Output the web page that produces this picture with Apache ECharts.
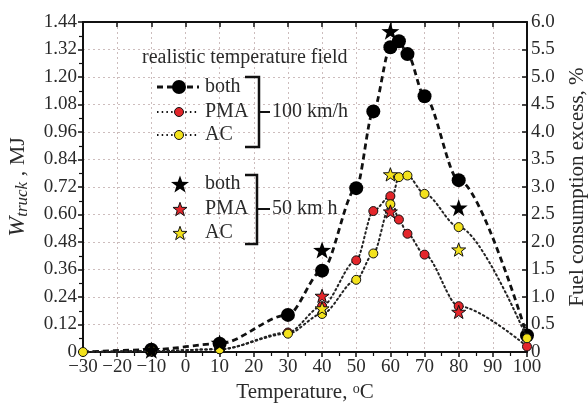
<!DOCTYPE html>
<html>
<head>
<meta charset="utf-8">
<script src="https://cdn.jsdelivr.net/npm/echarts@6/dist/echarts.min.js"></script>
<style>
  html, body { margin: 0; padding: 0; background: #fff; }
  #chart { width: 588px; height: 405px; }
</style>
</head>
<body>
<div id="chart"></div>
<script>
// Temperatures (°C) sampled for the 100 km/h runs
const temps100 = [-30, -10, 10, 30, 40, 50, 55, 60, 62.5, 65, 70, 80, 100];
// W_truck (MJ), 100 km/h, realistic temperature field
const both100 = [0, 0.01, 0.036, 0.162, 0.355, 0.715, 1.05, 1.33, 1.356, 1.30, 1.116, 0.75, 0.072];
const pma100  = [0, 0.004, 0.012, 0.085, 0.2, 0.40, 0.615, 0.68, 0.578, 0.516, 0.425, 0.2, 0.024];
const ac100   = [0, 0.004, 0.012, 0.08, 0.166, 0.315, 0.43, 0.645, 0.763, 0.77, 0.69, 0.545, 0.06];

// 50 km/h runs
const tempsBoth50 = [-10, 10, 40, 60, 80];
const both50      = [0.008, 0.04, 0.445, 1.40, 0.63];
const temps50     = [40, 60, 80];
const pma50       = [0.245, 0.613, 0.175];
const ac50        = [0.19, 0.775, 0.447];

// Axis ticks
const xTicks = { min: -30, max: 100, step: 10 };
const yLeft  = { min: 0, max: 1.44, step: 0.12 };
const yRight = { min: 0, max: 6, step: 0.5 };

const SERIF = '"Liberation Serif", "DejaVu Serif", serif';
const STAR = 'path://M0,-10 L2.35,-3.24 L9.51,-3.09 L3.8,1.24 L5.88,8.09 L0,4 L-5.88,8.09 L-3.8,1.24 L-9.51,-3.09 L-2.35,-3.24 Z';
const STAR_PTS = [[0,-10],[2.35,-3.24],[9.51,-3.09],[3.8,1.24],[5.88,8.09],[0,4],[-5.88,8.09],[-3.8,1.24],[-9.51,-3.09],[-2.35,-3.24]];
const RED = '#e3262b';
const YELLOW = '#f3e21c';
const INK = '#2a2a2a';

function pairs(xs, ys, skipFirst) {
  return xs.map((x, i) => {
    if (skipFirst && i === 0) return { value: [x, ys[i]], symbol: 'none' };
    return [x, ys[i]];
  });
}

const chart = echarts.init(document.getElementById('chart'), null, { renderer: 'canvas' });

const gridLine = { show: true, lineStyle: { color: '#cdbdbd', width: 1, type: [2, 3] } };
const axisLineStyle = { show: true, onZero: false, lineStyle: { color: '#111', width: 2 } };
const tickLabel = { fontFamily: SERIF, fontSize: 19, color: INK };

const dotted = { color: '#222', width: 2, type: [1.5, 3.2], cap: 'round' };

chart.setOption({
  animation: false,
  backgroundColor: '#fff',
  grid: { left: 83, right: 61, top: 22, bottom: 53, containLabel: false, outerBoundsMode: 'none' },
  xAxis: [{
    type: 'value', position: 'bottom',
    min: xTicks.min, max: xTicks.max, interval: xTicks.step,
    axisLine: axisLineStyle,
    axisTick: { show: true, inside: false, length: 5, lineStyle: { color: '#111', width: 1.5 } },
    minorTick: { show: true, splitNumber: 2, length: 4, lineStyle: { color: '#111', width: 1.2 } },
    splitLine: gridLine,
    axisLabel: Object.assign({ margin: 6, formatter: v => v < 0 ? '\u2212' + Math.abs(v) : String(v) }, tickLabel),
    name: '{a|Temperature, }{p|o}{a|C}',
    nameLocation: 'middle', nameGap: 24,
    nameTextStyle: {
      rich: {
        a: { fontFamily: SERIF, fontSize: 21, color: INK, lineHeight: 22 },
        p: { fontFamily: SERIF, fontSize: 14, color: INK, verticalAlign: 'top', lineHeight: 14 }
      }
    }
  }, {
    type: 'value', position: 'top',
    min: xTicks.min, max: xTicks.max, interval: xTicks.step,
    axisLine: axisLineStyle,
    axisTick: { show: true, inside: true, length: 5, lineStyle: { color: '#111', width: 1.5 } },
    axisLabel: { show: false },
    splitLine: { show: false }
  }],
  yAxis: [{
    type: 'value', position: 'left',
    min: yLeft.min, max: yLeft.max, interval: yLeft.step,
    axisLine: axisLineStyle,
    axisTick: { show: true, inside: false, length: 5, lineStyle: { color: '#111', width: 1.5 } },
    minorTick: { show: true, splitNumber: 2, length: 4, lineStyle: { color: '#111', width: 1.2 } },
    splitLine: gridLine,
    axisLabel: Object.assign({ margin: 6, formatter: v => v === 0 ? '0' : v.toFixed(2) }, tickLabel),
    name: '{w|W}{s|truck}{n| , MJ}',
    nameLocation: 'middle', nameGap: 52, nameRotate: 90,
    nameTextStyle: {
      rich: {
        w: { fontFamily: SERIF, fontStyle: 'italic', fontSize: 24, color: INK, lineHeight: 26 },
        s: { fontFamily: SERIF, fontStyle: 'italic', fontSize: 17, color: INK, verticalAlign: 'bottom', lineHeight: 15 },
        n: { fontFamily: SERIF, fontSize: 22, color: INK, lineHeight: 26 }
      }
    }
  }, {
    type: 'value', position: 'right',
    min: yRight.min, max: yRight.max, interval: yRight.step,
    axisLine: axisLineStyle,
    axisTick: { show: true, inside: true, length: 5, lineStyle: { color: '#111', width: 1.5 } },
    splitLine: { show: false },
    axisLabel: Object.assign({ margin: 4, formatter: v => v === 0 ? '0' : v.toFixed(1) }, tickLabel),
    name: 'Fuel consumption excess, %',
    nameLocation: 'middle', nameGap: 40, nameRotate: 90,
    nameTextStyle: { fontFamily: SERIF, fontSize: 21, color: INK }
  }],
  series: [
    {
      name: 'both 100', type: 'line', xAxisIndex: 0, yAxisIndex: 0,
      data: pairs(temps100, both100, true),
      smooth: 0.3, smoothMonotone: 'x',
      symbol: 'circle', symbolSize: 14,
      itemStyle: { color: '#000', opacity: 1 },
      lineStyle: { color: '#111', width: 2.8, type: [6, 4] },
      z: 3
    },
    {
      name: 'PMA 100', type: 'line', xAxisIndex: 0, yAxisIndex: 0,
      data: pairs(temps100, pma100, true),
      smooth: 0.3, smoothMonotone: 'x',
      symbol: 'circle', symbolSize: 9,
      itemStyle: { color: RED, borderColor: '#111', borderWidth: 1, opacity: 1 },
      lineStyle: dotted,
      z: 4
    },
    {
      name: 'AC 100', type: 'line', xAxisIndex: 0, yAxisIndex: 0,
      data: pairs(temps100, ac100, false),
      smooth: 0.3, smoothMonotone: 'x',
      symbol: 'circle', symbolSize: 9,
      itemStyle: { color: YELLOW, borderColor: '#111', borderWidth: 1, opacity: 1 },
      lineStyle: dotted,
      z: 4
    },
    {
      name: 'both 50', type: 'scatter', xAxisIndex: 0, yAxisIndex: 0,
      data: pairs(tempsBoth50, both50, false),
      symbol: STAR, symbolKeepAspect: true, symbolSize: 18,
      itemStyle: { color: '#000', opacity: 1 },
      z: 5
    },
    {
      name: 'PMA 50', type: 'scatter', xAxisIndex: 0, yAxisIndex: 0,
      data: pairs(temps50, pma50, false),
      symbol: STAR, symbolKeepAspect: true, symbolSize: 14,
      itemStyle: { color: RED, borderColor: '#111', borderWidth: 1, opacity: 1 },
      z: 5
    },
    {
      name: 'AC 50', type: 'scatter', xAxisIndex: 0, yAxisIndex: 0,
      data: pairs(temps50, ac50, false),
      symbol: STAR, symbolKeepAspect: true, symbolSize: 14,
      itemStyle: { color: YELLOW, borderColor: '#111', borderWidth: 1, opacity: 1 },
      z: 5
    }
  ],
  graphic: (function () {
    const txt = (x, y, s) => ({
      type: 'text', x: x, y: y, z: 20,
      style: { text: s, font: '20px ' + SERIF, fill: INK, textVerticalAlign: 'middle', textAlign: 'left' }
    });
    const seg = (pts, dash, w) => ({
      type: 'polyline', z: 19, shape: { points: pts },
      style: { stroke: '#111', lineWidth: w || 2, lineDash: dash || null, fill: null }
    });
    const dot = (x, y, r, fill) => ({
      type: 'circle', z: 21, shape: { cx: x, cy: y, r: r },
      style: { fill: fill, stroke: '#111', lineWidth: fill === '#000' ? 0 : 1 }
    });
    const star = (x, y, size, fill) => ({
      type: 'polygon', z: 21,
      shape: { points: STAR_PTS.map(p => [x + p[0] * size / 19, y + (p[1] + 0.95) * size / 19]) },
      style: { fill: fill, stroke: '#111', lineWidth: fill === '#000' ? 0 : 1 }
    });
    const els = [];
    els.push(txt(142, 58, 'realistic temperature field'));
    // 100 km/h block
    els.push(seg([[157, 87], [199, 87]], [6, 4], 2.8));
    els.push(dot(179, 87, 7, '#000'));
    els.push(txt(205, 87, 'both'));
    els.push(seg([[157, 112], [199, 112]], [1.5, 3.2], 2));
    els.push(dot(179, 112, 4.5, RED));
    els.push(txt(205, 112, 'PMA'));
    els.push(seg([[157, 135], [199, 135]], [1.5, 3.2], 2));
    els.push(dot(179, 135, 4.5, YELLOW));
    els.push(txt(205, 135, 'AC'));
    els.push(seg([[245, 77], [259, 77], [259, 147], [245, 147]], null, 2.5));
    els.push(seg([[259, 112], [270, 112]], null, 2));
    els.push(txt(272, 112, '100 km/h'));
    // 50 km/h block
    els.push(star(180, 184, 18, '#000'));
    els.push(txt(205, 184, 'both'));
    els.push(star(180, 209, 14, RED));
    els.push(txt(205, 209, 'PMA'));
    els.push(star(180, 233, 14, YELLOW));
    els.push(txt(205, 233, 'AC'));
    els.push(seg([[245, 175], [257, 175], [257, 244], [245, 244]], null, 2.5));
    els.push(seg([[257, 209], [270, 209]], null, 2));
    els.push(txt(272, 209, '50 km h'));
    return els;
  })()
});
</script>
</body>
</html>
